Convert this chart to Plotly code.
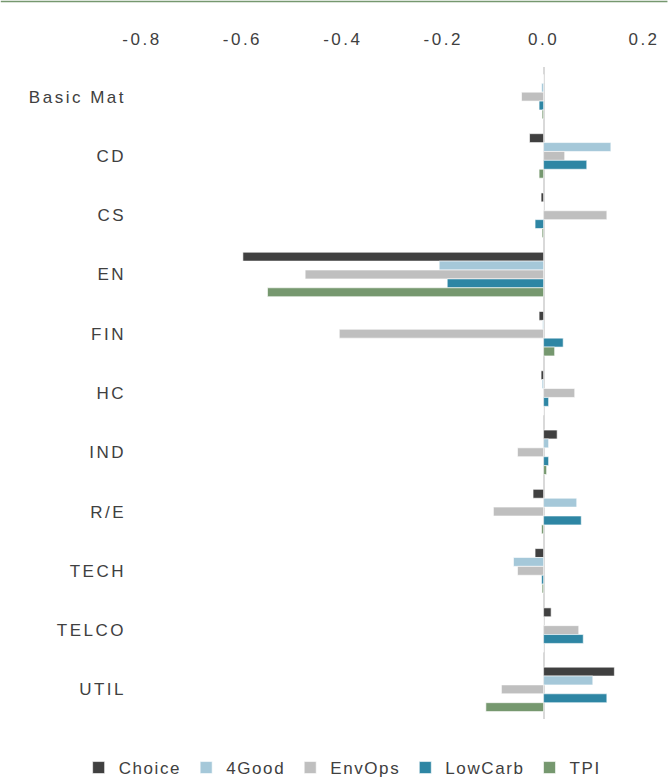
import plotly.graph_objects as go

categories = ["Basic Mat", "CD", "CS", "EN", "FIN", "HC", "IND", "R/E", "TECH", "TELCO", "UTIL"]

choice   = [0.000, -0.028, -0.005, -0.599, -0.009, -0.005, 0.027, -0.021, -0.017, 0.015, 0.141]
good4    = [-0.004, 0.134, 0.000, -0.208, -0.002, -0.003, 0.010, 0.066, -0.060, 0.000, 0.098]
envops   = [-0.044, 0.042, 0.126, -0.475, -0.407, 0.062, -0.052, -0.100, -0.052, 0.070, -0.084]
lowcarb  = [-0.009, 0.086, -0.017, -0.192, 0.039, 0.010, 0.010, 0.075, -0.004, 0.079, 0.126]
tpi      = [-0.003, -0.009, -0.003, -0.550, 0.022, 0.000, 0.006, -0.004, -0.003, 0.000, -0.115]

series_names = ["Choice", "4Good", "EnvOps", "LowCarb", "TPI"]
series_vals = [choice, good4, envops, lowcarb, tpi]
colors = ["#404040", "#A5C8D9", "#BFBFBF", "#2E86A4", "#76986F"]

x_ticks = [-0.8, -0.6, -0.4, -0.2, 0.0, 0.2]
x_ticklabels = ["-0.8", "-0.6", "-0.4", "-0.2", "0.0", "0.2"]

SP = "<span style='letter-spacing:2.5px'>{}</span>"
SPL = "<span style='letter-spacing:1.6px'>{}</span>"

fig = go.Figure()
for name, vals, col in zip(series_names, series_vals, colors):
    fig.add_trace(go.Bar(
        y=categories, x=vals, name=SPL.format(name), orientation="h",
        marker=dict(color=col, line=dict(color="white", width=0.6)),
    ))

W, H = 668, 780
ML, MR, MT, MB = 141.5, 23.5, 67, 61
PW, PH = W - ML - MR, H - MT - MB

font_fam = "Liberation Sans, Arial, sans-serif"
fig.update_layout(
    width=W, height=H,
    barmode="group", bargap=0.25, bargroupgap=0,
    plot_bgcolor="white", paper_bgcolor="white",
    margin=dict(l=ML, r=MR, t=MT, b=MB, autoexpand=False),
    font=dict(family=font_fam, size=17, color="#404040"),
    xaxis=dict(
        side="top", range=[-0.8, 0.2], tickvals=x_ticks,
        ticktext=[SP.format(t) for t in x_ticklabels],
        showgrid=False, showline=False, zeroline=True, automargin=False,
        zerolinecolor="#D9D9D9", zerolinewidth=2, ticks="",
        ticklabelstandoff=18,
        tickfont=dict(size=17, color="#404040"),
    ),
    yaxis=dict(
        autorange="reversed", showgrid=False, showline=False, ticks="",
        automargin=False, tickvals=categories,
        ticktext=[SP.format(c) for c in categories],
        ticklabelstandoff=15, tickfont=dict(size=17, color="#404040"),
    ),
    legend=dict(
        orientation="h", x=(78 - ML) / PW, xanchor="left",
        y=-(768 - (MT + PH)) / PH, yanchor="middle",
        font=dict(size=17, color="#404040"), traceorder="normal",
        itemwidth=30,
    ),
    shapes=[dict(type="line", xref="paper", yref="paper",
                 x0=-ML / PW, x1=1 + MR / PW,
                 y0=1 + (MT - 1.5) / PH, y1=1 + (MT - 1.5) / PH,
                 line=dict(color="#76986F", width=1.5))],
)

fig.write_html("out.html", config={"displayModeBar": False},
               post_script="document.body.style.margin='0px';")
